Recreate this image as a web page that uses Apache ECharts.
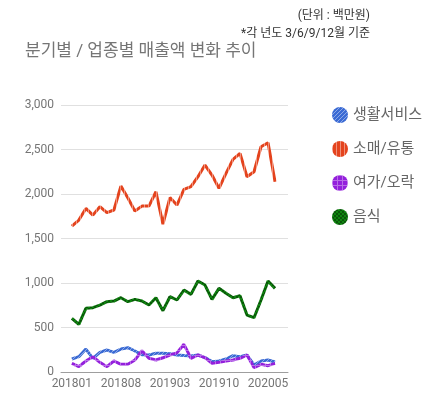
<!DOCTYPE html>
<html>
<head>
<meta charset="utf-8">
<script src="https://cdn.jsdelivr.net/npm/echarts@6/dist/echarts.min.js"></script>
<style>html,body{margin:0;padding:0;background:#fff;}#c{width:430px;height:400px;}</style>
</head>
<body>
<div id="c"></div>
<script>
const months = ['201801','201802','201803','201804','201805','201806','201807','201808','201809','201810','201811','201812',
  '201901','201902','201903','201904','201905','201906','201907','201908','201909','201910','201911','201912',
  '202001','202002','202003','202004','202005','202006'];
const tickIdx = [0, 7, 14, 21, 28];
const seriesNames = ['생활서비스', '소매/유통', '여가/오락', '음식'];
const living = [146,172,258,154,221,247,221,258,273,236,195,191,210,210,206,191,185,180,191,161,116,124,146,183,172,191,79,124,135,112];
const retail = [1640,1707,1838,1763,1857,1790,1820,2089,1955,1808,1864,1864,2025,1662,1960,1876,2052,2082,2194,2325,2213,2063,2232,2389,2456,2194,2250,2531,2576,2138];
const leisure = [97,60,124,172,109,60,124,86,86,135,240,154,135,160,191,215,311,154,191,161,97,109,124,135,154,191,49,86,71,97];
const food = [603,535,715,723,752,790,797,835,790,816,797,752,835,689,846,809,921,872,1022,977,816,940,884,835,857,640,610,809,1022,940];
const yTicks = {min: 0, max: 3000, interval: 500};
const baseColors = ['#3a6ad4', '#e4431d', '#9420dc', '#0f840f'];
const FONT = 'Roboto, "Noto Sans CJK KR", sans-serif';

function makePattern(kind, base) {
  const s = kind === 'grid' ? 5 : 4;
  const cv = document.createElement('canvas');
  cv.width = s; cv.height = s;
  const g = cv.getContext('2d');
  g.fillStyle = base; g.fillRect(0, 0, s, s);
  const w = 'rgba(255,255,255,0.42)';
  if (kind === 'diag') {
    g.strokeStyle = w; g.lineWidth = 1;
    g.beginPath();
    g.moveTo(-1, s + 1); g.lineTo(s + 1, -1);
    g.moveTo(-1, 1); g.lineTo(1, -1);
    g.moveTo(s - 1, s + 1); g.lineTo(s + 1, s - 1);
    g.stroke();
  } else if (kind === 'vert') {
    g.fillStyle = w; g.fillRect(0, 0, 1, s);
  } else if (kind === 'grid') {
    g.fillStyle = 'rgba(255,255,255,0.35)';
    g.fillRect(0, 0, 1, s); g.fillRect(1, 0, s - 1, 1);
  } else if (kind === 'check') {
    g.fillStyle = 'rgba(0,0,0,0.35)';
    g.fillRect(0, 0, s / 2, s / 2); g.fillRect(s / 2, s / 2, s / 2, s / 2);
  }
  return {image: cv, repeat: 'repeat'};
}
const kinds = ['diag', 'vert', 'grid', 'check'];
const patterns = baseColors.map((c, k) => makePattern(kinds[k], c));

const allData = [living, retail, leisure, food];
const chart = echarts.init(document.getElementById('c'));
chart.setOption({
  animation: false,
  title: [
    {text: '분기별 / 업종별 매출액 변화 추이', left: 25, top: 43, padding: 0,
      textStyle: {fontSize: 17, fontWeight: 'normal', color: '#757575', fontFamily: FONT}},
    {text: '(단위 : 백만원)', right: 60, top: 10, padding: 0,
      textStyle: {fontSize: 12, fontWeight: 'normal', color: '#333', fontFamily: FONT}},
    {text: '*각 년도 3/6/9/12월 기준', right: 60, top: 28, padding: 0,
      textStyle: {fontSize: 12, fontWeight: 'normal', color: '#333', fontFamily: FONT}}
  ],
  legend: {
    orient: 'vertical', left: 327, top: 102, icon: 'circle',
    itemWidth: 16, itemHeight: 16, itemGap: 18,
    textStyle: {fontSize: 15, color: '#666', fontFamily: FONT},
    data: seriesNames
  },
  grid: {left: 61, right: 142, top: 105, bottom: 28},
  xAxis: {
    type: 'value', min: -1.55, max: 30.85,
    axisLine: {show: true, lineStyle: {color: '#9e9e9e'}},
    axisTick: {show: false},
    splitLine: {show: false},
    axisLabel: {customValues: tickIdx, formatter: v => months[Math.round(v)], color: '#757575',
      fontSize: 12, fontFamily: FONT, margin: 6}
  },
  yAxis: {
    type: 'value', min: yTicks.min, max: yTicks.max, interval: yTicks.interval,
    axisLine: {show: false}, axisTick: {show: false},
    splitLine: {lineStyle: {color: '#e0e0e0'}},
    axisLabel: {color: '#757575', fontSize: 12, fontFamily: FONT, margin: 7}
  },
  series: seriesNames.map((n, k) => ({
    name: n, type: 'line', showSymbol: false, symbol: 'none',
    itemStyle: {color: patterns[k]},
    lineStyle: {width: 3, color: patterns[k]},
    data: allData[k].map((v, i) => [i, v])
  }))
});
</script>
</body>
</html>
